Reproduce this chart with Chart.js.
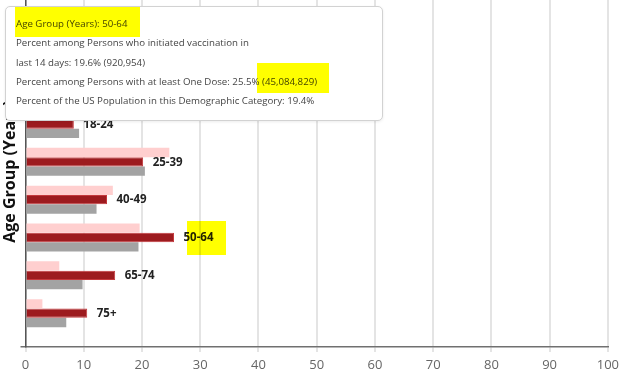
<!DOCTYPE html>
<html>
<head>
<meta charset="utf-8">
<script src="https://cdn.jsdelivr.net/npm/chart.js@4/dist/chart.umd.min.js"></script>
<style>
  html, body { margin: 0; padding: 0; background: #fff; overflow: hidden; }
  body { width: 624px; height: 385px; position: relative; }
  #c { position: absolute; left: 0; top: -4px; }
  #tip {
    position: absolute; left: 5px; top: 6px; width: 376px; height: 113px;
    background: #fff; border: 1px solid #d2d2d2; border-radius: 5px;
    box-shadow: 0 1px 3px rgba(0,0,0,0.08);
    font-family: "Open Sans", sans-serif; font-size: 9.7px; color: #444;
    box-sizing: content-box;
  }
  #tip div { position: absolute; left: 10px; white-space: nowrap; line-height: 14px; }
  .hl { position: absolute; background: #ffff00; mix-blend-mode: multiply; }
</style>
</head>
<body>
<canvas id="c" width="624" height="389"></canvas>
<div id="tip"></div>
<div class="hl" style="left:15px;top:7px;width:125px;height:30px;"></div>
<div class="hl" style="left:257px;top:63px;width:72px;height:30px;"></div>
<div class="hl" style="left:187px;top:221px;width:39px;height:34px;"></div>
<script>
// ---- data ----
const categories = ["18-24", "25-39", "40-49", "50-64", "65-74", "75+"];
// Percent among persons who initiated vaccination in last 14 days (18-24 hidden under tooltip: estimated)
const initiated14Days = [12.0, 24.7, 15.0, 19.6, 5.8, 2.9];
// Percent among persons with at least one dose
const atLeastOneDose = [8.3, 20.2, 14.0, 25.5, 15.4, 10.6];
// Percent of the US population in this demographic category
const usPopulation = [9.2, 20.5, 12.2, 19.4, 9.8, 7.0];
const xTicks = [0, 10, 20, 30, 40, 50, 60, 70, 80, 90, 100];
const seriesNames = ["Percent among Persons who initiated vaccination in last 14 days",
                     "Percent among Persons with at least One Dose",
                     "Percent of the US Population in this Demographic Category"];
// hovered item shown in tooltip
const hoverIndex = 3;
const hoverInitiatedCount = "920,954";
const hoverOneDoseCount = "45,084,829";

// ---- tooltip (HTML overlay) ----
const tipLines = [
  "Age Group (Years): " + categories[hoverIndex],
  "Percent among Persons who initiated vaccination in",
  "last 14 days: " + initiated14Days[hoverIndex].toFixed(1) + "% (" + hoverInitiatedCount + ")",
  "Percent among Persons with at least One Dose: " + atLeastOneDose[hoverIndex].toFixed(1) + "% (" + hoverOneDoseCount + ")",
  "Percent of the US Population in this Demographic Category: " + usPopulation[hoverIndex].toFixed(1) + "%"
];
const tip = document.getElementById("tip");
tipLines.forEach((t, i) => {
  const d = document.createElement("div");
  d.textContent = t;
  d.style.top = (17 + i * 19.3 - 6 - 1) + "px";
  tip.appendChild(d);
});

const toXY = arr => arr.map((v, i) => ({ x: v, y: i }));

const labelPlugin = {
  id: "barLabels",
  afterDatasetsDraw(chart) {
    const meta = chart.getDatasetMeta(1);
    const ctx = chart.ctx;
    ctx.save();
    ctx.font = "bold 11.5px 'Open Sans', sans-serif";
    ctx.fillStyle = "#222";
    ctx.textBaseline = "middle";
    ctx.textAlign = "left";
    meta.data.forEach((el, i) => {
      ctx.fillText(categories[i], el.x + 9.5, el.y + 0.5);
    });
    ctx.restore();
  }
};

new Chart(document.getElementById("c"), {
  type: "bar",
  data: {
    datasets: [
      { label: seriesNames[0], data: toXY(initiated14Days), backgroundColor: "#ffcfcf", borderWidth: 0 },
      { label: seriesNames[1], data: toXY(atLeastOneDose), backgroundColor: "#9d1b1f", borderColor: "#c4393d", borderWidth: 1 },
      { label: seriesNames[2], data: toXY(usPopulation), backgroundColor: "#a3a3a3", borderWidth: 0 }
    ]
  },
  options: {
    indexAxis: "y",
    responsive: false,
    animation: false,
    categoryPercentage: 0.74,
    barPercentage: 1.0,
    layout: { padding: { left: 0, right: 16, top: 0, bottom: 7.4 } },
    plugins: { legend: { display: false }, tooltip: { enabled: false } },
    scales: {
      x: {
        type: "linear",
        min: 0, max: 100,
        afterBuildTicks: s => { s.ticks = xTicks.map(v => ({ value: v })); },
        ticks: { color: "#666", font: { family: "'Open Sans', sans-serif", size: 13 }, padding: 5 },
        grid: { color: "#e4e4e4", lineWidth: 2, tickLength: 5 },
        border: { color: "#707070", width: 1.5 }
      },
      y: {
        type: "linear",
        reverse: true,
        offset: false,
        min: -3.382, max: 5.894,
        afterBuildTicks: s => { s.ticks = [{ value: s.max }]; },
        afterFit: s => { s.width = 25.5; },
        ticks: { display: false },
        grid: { offset: false, drawOnChartArea: false, drawTicks: true, tickLength: 5, color: "#707070", lineWidth: 1.5 },
        border: { color: "#555", width: 1.5 },
        title: {
          display: true,
          text: "Age Group (Years)",
          color: "#111",
          font: { family: "'Open Sans', sans-serif", size: 16, weight: "bold" },
          padding: { top: 1, bottom: 0 }
        }
      }
    }
  },
  plugins: [labelPlugin]
});
</script>
</body>
</html>
